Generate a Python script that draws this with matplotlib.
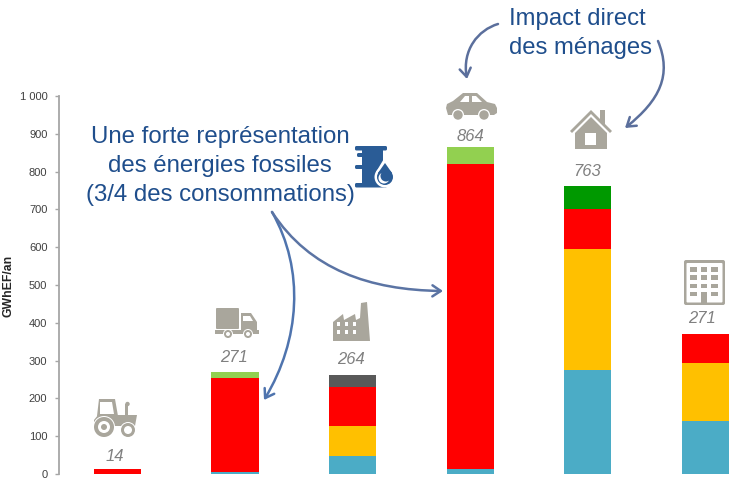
import matplotlib
matplotlib.use("Agg")
import matplotlib.pyplot as plt
from matplotlib.patches import Circle, FancyArrowPatch, FancyBboxPatch, Polygon, Rectangle
from matplotlib.path import Path

plt.rcParams['font.family'] = ['Liberation Sans', 'DejaVu Sans']

W, H = 735, 490

# segments du bas vers le haut
secteurs = ["agriculture", "fret", "industrie", "voiture", "residentiel", "tertiaire"]
bleu = [0, 5, 47, 12, 275, 140]
orange = [0, 0, 80, 0, 320, 153]
rouge = [14, 250, 102, 807, 105, 77]
vert_clair = [0, 16, 0, 45, 0, 0]
gris = [0, 0, 33, 0, 0, 0]
vert = [0, 0, 0, 0, 63, 0]
totaux = ["14", "271", "264", "864", "763", "271"]
yticks = [0, 100, 200, 300, 400, 500, 600, 700, 800, 900, 1000]
yticklabels = ["0", "100", "200", "300", "400", "500", "600", "700", "800", "900", "1 000"]

series = [(bleu, "#4BACC6"), (orange, "#FFC000"), (rouge, "#FF0000"),
          (vert_clair, "#92D050"), (gris, "#595959"), (vert, "#009900")]

fig = plt.figure(figsize=(W / 100, H / 100), dpi=100)

# axe principal : 0 a y=474 px, 1000 a y=96 px
ax = fig.add_axes([58.5 / W, (H - 474) / H, (W - 58.5) / W, 378 / H])
bottom = [0] * len(secteurs)
for vals, col in series:
    ax.bar(range(len(secteurs)), vals, width=0.4, bottom=bottom, color=col, linewidth=0)
    bottom = [b + v for b, v in zip(bottom, vals)]
ax.set_xlim(-0.5, 5.25)
ax.set_ylim(0, 1000)
ax.set_yticks(yticks)
ax.set_yticklabels(yticklabels, fontsize=8, color="#404040")
ax.set_xticks([])
ax.tick_params(axis='y', length=3, width=1, color="#A6A6A6", pad=5)
for s in ["top", "right", "bottom"]:
    ax.spines[s].set_visible(False)
ax.spines["left"].set_color("#A6A6A6")
ax.spines["left"].set_linewidth(1.3)

# calque en pixels pour icones, textes et fleches
ov = fig.add_axes([0, 0, 1, 1])
ov.set_xlim(0, W)
ov.set_ylim(H, 0)
ov.axis("off")
ov.patch.set_alpha(0)

ov.text(9, 286, "GWhEF/an", rotation=90, fontsize=8.8, fontweight="bold",
        ha="center", va="center", color="#262626")

pos_totaux = [(115, 456), (234, 357), (351, 359), (470, 136), (587, 171), (702, 318)]
for (x, y), t in zip(pos_totaux, totaux):
    ov.text(x, y, t, fontsize=12, style="italic", color="#808080", ha="center", va="center")

BLEU_TXT = "#1F4E8C"
for y, t in [(137, "Une forte représentation"), (166, "des énergies fossiles"),
             (195, "(3/4 des consommations)")]:
    ov.text(220, y, t, fontsize=17.3, color=BLEU_TXT, ha="center", va="center")
ov.text(509, 19, "Impact direct", fontsize=17.2, color=BLEU_TXT, ha="left", va="center")
ov.text(509, 48, "des ménages", fontsize=17.2, color=BLEU_TXT, ha="left", va="center")


def fleche(p0, c1, c2, p1, col):
    path = Path([p0, c1, c2, p1], [Path.MOVETO, Path.CURVE4, Path.CURVE4, Path.CURVE4])
    ov.add_patch(FancyArrowPatch(path=path, arrowstyle="->,head_length=6,head_width=4",
                                 color=col, lw=1.8))


fleche((272, 212), (305, 270), (300, 340), (264, 400), "#4F74AE")
fleche((272, 212), (310, 270), (370, 290), (443, 291), "#5B74A4")
fleche((498, 24), (478, 30), (462, 50), (467, 79), "#5B6F9C")
fleche((658, 41), (672, 75), (660, 100), (625, 128), "#5B6F9C")

G = "#A9A69C"


def rect(x, y, w, h, col=G, z=3):
    ov.add_patch(Rectangle((x, y), w, h, color=col, lw=0, zorder=z))


def rrect(x, y, w, h, r=2, col=G, z=3):
    ov.add_patch(FancyBboxPatch((x + r, y + r), w - 2 * r, h - 2 * r,
                                boxstyle=f"round,pad={r}", color=col, lw=0, zorder=z))


def poly(pts, col=G, z=3):
    ov.add_patch(Polygon(pts, closed=True, color=col, lw=0, zorder=z))


def rond(x, y, r, col=G, z=3):
    ov.add_patch(Circle((x, y), r, color=col, lw=0, zorder=z))


# tracteur
poly([(94, 420), (98, 415), (137, 415), (135, 426), (94, 426)])
poly([(97, 416), (99, 399), (115, 399), (118, 416)])
poly([(100, 402), (112, 402), (114, 414), (100, 414)], "white", 4)
rect(125, 404, 3.5, 12)
rond(127.5, 404, 2.2)
rond(104, 427, 11, "white", 4)
rond(104, 427, 10, G, 5)
rond(104, 427, 6, "white", 6)
rond(104, 427, 3, G, 7)
rond(128, 430, 8, "white", 4)
rond(128, 430, 7, G, 5)
rond(128, 430, 4, "white", 6)

# camion
rrect(216, 308, 23, 21, 1)
poly([(241, 313), (251, 313), (257, 322), (257, 330), (241, 330)])
poly([(243, 316), (250, 316), (253, 321), (243, 321)], "white", 4)
rect(215, 330, 44, 3.5)
for x in (228, 248):
    rond(x, 334, 5, "white", 4)
    rond(x, 334, 4, G, 5)
    rond(x, 334, 2, "white", 6)

# usine
poly([(333, 322), (343, 314), (344, 320), (355, 314), (356, 320), (360, 318),
      (361, 303), (367, 302), (370, 341), (333, 341)])
for x in (337, 345, 353):
    for y in (322, 330):
        rect(x, y, 3, 4, "white", 4)

# voiture
poly([(446, 108), (447, 104), (453, 101), (463, 93), (477, 93), (487, 102),
      (495, 104), (497, 108), (497, 113), (494, 115), (448, 115)])
poly([(460, 102), (465, 96), (469, 96), (469, 102)], "white", 4)
poly([(472, 96), (476, 96), (482, 102), (472, 102)], "white", 4)
for x in (458, 484):
    rond(x, 115, 6, "white", 4)
    rond(x, 115, 4.7, G, 5)

# maison
poly([(570, 131), (591, 110), (600, 119), (600, 110), (605, 110), (605, 124), (612, 131),
      (610, 133), (591, 114), (572, 133)])
poly([(575, 133), (591, 117), (607, 133), (607, 149), (575, 149)])
rect(585, 133, 11, 12, "white", 4)

# immeuble
rrect(684, 260, 41, 45, 2)
rrect(686.5, 263, 36, 39.5, 1, "white", 4)
for i in range(4):
    for j in range(3):
        if not (i == 3 and j == 1):
            rect(690.5 + j * 10.5, 267 + i * 8.3, 6.5, 4.5, G, 5)
rect(701, 292, 6.5, 11, G, 5)

# baril et goutte
B = "#2A5C96"
rrect(355, 146, 32, 4.5, 1.5, B)
rect(362, 148, 21, 38, B)
rrect(355, 183, 32, 4.5, 1.5, B)
rrect(357, 153, 8, 4, 1.5, B)
rrect(355, 165, 8, 4, 1.5, B)
rond(385, 177, 10.5, "white", 4)
poly([(376, 172), (385, 157), (394, 172)], "white", 4)
rond(385, 177, 8, B, 5)
poly([(378, 173), (385, 163), (392, 173)], B, 5)
rond(384, 178, 5.5, "white", 6)
rond(386, 176, 5.5, B, 7)

fig.savefig("out.png", dpi=100)
